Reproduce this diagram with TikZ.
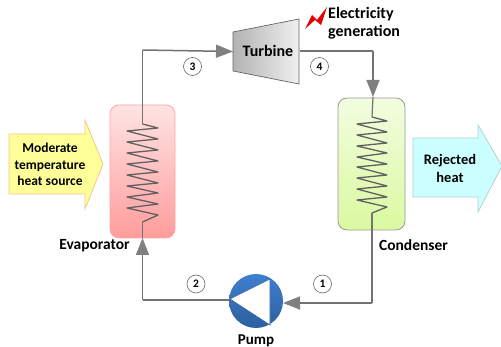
\documentclass[tikz,border=0pt]{standalone}
\usepackage{fontspec}
\setmainfont{Carlito}
\usetikzlibrary{arrows.meta}
\tikzset{x=1pt,y=-1pt,
 pipe/.style={draw=black!55,line width=1.5pt,line join=miter},
 flow/.style={pipe,-{Triangle[length=17pt,width=13pt,color=black!50]},shorten >=0pt},
 coil/.style={draw=black!62,line width=1.3pt,line join=round},
 num/.style={circle,draw=black!60,fill=white,line width=.6pt,minimum size=18pt,inner sep=0pt,font=\bfseries\fontsize{11.5pt}{11.5pt}\selectfont},
 lab/.style={font=\bfseries\fontsize{15.5pt}{18pt}\selectfont,align=center,inner sep=0pt},
 box/.style={rounded corners=9pt,line width=.8pt}}
\definecolor{evaT}{HTML}{FFE3E3}\definecolor{evaB}{HTML}{FF9C9C}
\definecolor{conT}{HTML}{F2FDE0}\definecolor{conB}{HTML}{DAF9A0}
\definecolor{pumpT}{HTML}{3F80D0}\definecolor{pumpB}{HTML}{2C5F9E}
\definecolor{srcF}{HTML}{FFFF99}\definecolor{srcD}{HTML}{F5C58A}
\definecolor{rejF}{HTML}{CCFFFF}\definecolor{rejD}{HTML}{B5D0D0}
\begin{document}
\begin{tikzpicture}
\useasboundingbox (0,0) rectangle (501,347);
\fill[white] (0,0) rectangle (501,347);
% heat arrows
\path[draw=srcD,line width=.8pt,fill=srcF] (9,134) -- (85,134) -- (85,120) -- (103,164) -- (85,209) -- (85,194) -- (9,194) -- cycle;
\path[draw=rejD,line width=.8pt,fill=rejF] (413,138) -- (478,138) -- (478,125) -- (502,166) -- (478,212) -- (478,197) -- (413,197) -- cycle;
% vessels
\node[box,draw=red!35,top color=evaT,bottom color=evaB,minimum width=65pt,minimum height=133pt,inner sep=0pt] (eva) at (142.5,171.5) {};
\node[box,draw=black!40,top color=conT,bottom color=conB,minimum width=67pt,minimum height=132pt,inner sep=0pt] (con) at (371.5,164) {};
% turbine
\path[left color=black!30,right color=black!6,draw=black!60,line width=.7pt] (233,32) -- (299,19) -- (299,84) -- (233,71) -- cycle;
\node[lab,font=\bfseries\fontsize{16pt}{18pt}\selectfont] (tur) at (268,51) {Turbine};
% pump
\node[circle,minimum size=54pt,inner sep=0pt,top color=pumpT,bottom color=pumpB] (pump) at (256,301) {};
\path[fill=white,draw=pumpB,line width=.6pt] (230,299) -- (270,279) -- (270,325) -- cycle;
% coils
\coordinate (e1) at (142.5,124);
\coordinate (e2) at (142.5,222);
\coordinate (c1) at (372,117);
\coordinate (c2) at (372,213);
\draw[coil] (e1) -- (158,128) -- (127,131) -- (158,139) -- (127,142) -- (158,150) -- (127,153) -- (158,161) -- (127,164) -- (158,172) -- (127,175) -- (158,183) -- (127,186) -- (158,193) -- (127,197) -- (158,204) -- (127,208) -- (158,215) -- (e2);
\draw[coil] (c1) -- (387,121) -- (357,124) -- (387,132) -- (357,135) -- (387,143) -- (357,146) -- (387,153) -- (357,157) -- (387,164) -- (357,167) -- (387,175) -- (357,178) -- (387,186) -- (357,189) -- (387,197) -- (357,200) -- (387,207) -- (c2);
% pipes
\coordinate (p3) at (142.5,50);
\coordinate (p4) at (373,51);
\coordinate (p2) at (142.5,300);
\coordinate (p1) at (372,303);
\draw[pipe] (e1) -- (p3);
\draw[flow] (p3) -- (233,51.5);
\draw[pipe] (300,51) -- (p4);
\draw[flow] (p4) -- (373,97);
\draw[pipe,line width=1.2pt] (373,97) -- (c1);
\draw[pipe] (c2) -- (p1);
\draw[flow] (p1) -- (283,303);
\draw[pipe] (229,300) -- (p2);
\draw[flow] (p2) -- (142.5,238);
\draw[pipe,line width=1.2pt] (142.5,238) -- (e2);
% numbers
\node[num] (n3) at (192.5,66.5) {3};
\node[num] (n4) at (319.5,66.5) {4};
\node[num] (n2) at (196,284) {2};
\node[num] (n1) at (322.5,284) {1};
% bolt
\fill[red!90!black] (305,29) -- (312,15) -- (317,20) -- (327,7) -- (321,25) -- (315,20) -- cycle;
% labels
\node[lab,font=\bfseries\fontsize{16pt}{18pt}\selectfont,align=left,anchor=west] (el) at (328,23) {Electricity\\generation};
\node[lab,font=\bfseries\fontsize{13.5pt}{16.5pt}\selectfont] (hs) at (50,164.5) {Moderate\\temperature\\heat source};
\node[lab,font=\bfseries\fontsize{14.5pt}{18pt}\selectfont] (rh) at (450,168) {Rejected\\heat};
\node[lab] (ev) at (94.5,246) {Evaporator};
\node[lab] (cd) at (413.5,245) {Condenser};
\node[lab,font=\bfseries\fontsize{15pt}{18pt}\selectfont] (pu) at (256,341) {Pump};
\end{tikzpicture}
\end{document}
